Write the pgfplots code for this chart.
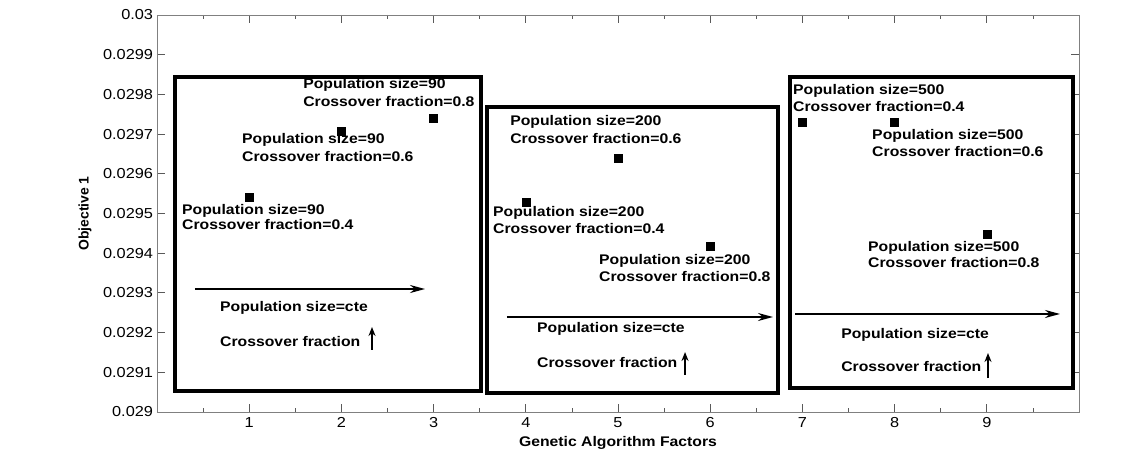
\documentclass[border=0pt]{standalone}
\usepackage{fontspec}
\setmainfont{Liberation Sans}
\usepackage{pgfplots}
\pgfplotsset{compat=1.18}
\usetikzlibrary{arrows.meta}
\definecolor{axgray}{RGB}{128,128,128}

\begin{document}
\begin{tikzpicture}[
    lbl/.style={anchor=west, inner sep=0pt, font=\fontsize{14}{16}\selectfont\bfseries, xscale=1.13},
    ]
\path (-157bp,-41bp) rectangle (986bp,412bp);
\begin{axis}[%
    at={(0,0)}, anchor=south west,
    width=922bp, height=397bp,
    scale only axis,
    clip=false,
    xmin=0, xmax=10,
    ymin=0.029, ymax=0.03,
    xtick={1,2,3,4,5,6,7,8,9},
    minor xtick={0.5,1.5,2.5,3.5,4.5,5.5,6.5,7.5,8.5,9.5},
    ytick={0.029,0.0291,0.0292,0.0293,0.0294,0.0295,0.0296,0.0297,0.0298,0.0299,0.03},
    scaled y ticks=false,
    /pgf/number format/assume math mode=true,
    yticklabel style={/pgf/number format/fixed, /pgf/number format/precision=4},
    xticklabel style={yshift=-2bp},
    tick label style={font=\fontsize{14.5}{16}\selectfont, xscale=1.13},
    axis line style={draw=axgray, line width=0.8bp},
    tick style={draw=axgray!70!black, line width=0.8bp},
    major tick length=8bp,
    minor tick length=4bp,
    xlabel={Genetic Algorithm Factors},
    ylabel={Objective 1},
    xlabel style={font=\fontsize{14}{16}\selectfont\bfseries, xscale=1.13,
        at={(axis description cs:0.5,-0.0780)}, anchor=center},
    ylabel style={font=\fontsize{14}{16}\selectfont\bfseries,
        at={(axis description cs:-0.0781,0.5)}, anchor=center},
    ]

% group boxes
\draw[line width=4bp] (axis cs:0.195,0.0290529) rectangle (axis cs:3.514,0.0298438);
\draw[line width=4bp] (axis cs:3.579,0.0290479) rectangle (axis cs:6.735,0.0297683);
\draw[line width=4bp] (axis cs:6.866,0.0290605) rectangle (axis cs:9.935,0.0298438);

% horizontal arrows
\draw[line width=2bp, -{Stealth[length=15bp,width=8bp]}] (axis cs:0.412,0.0293098) -- (axis cs:2.907,0.0293098);
\draw[line width=2bp, -{Stealth[length=15bp,width=8bp]}] (axis cs:3.796,0.0292393) -- (axis cs:6.681,0.0292393);
\draw[line width=2bp, -{Stealth[length=15bp,width=8bp]}] (axis cs:6.920,0.0292469) -- (axis cs:9.794,0.0292469);

% small vertical arrows
\draw[line width=1.5bp, -{Stealth[length=9bp,width=7bp]}] (axis cs:2.332,0.0291562) -- (axis cs:2.332,0.0292141);
\draw[line width=1.5bp, -{Stealth[length=9bp,width=7bp]}] (axis cs:5.727,0.0290932) -- (axis cs:5.727,0.0291511);
\draw[line width=1.5bp, -{Stealth[length=9bp,width=7bp]}] (axis cs:9.013,0.0290856) -- (axis cs:9.013,0.0291486);

% results
\addplot[only marks, mark=square*, mark size=4bp, black]
    coordinates{
        (1,0.0295416) (2,0.0297078) (3,0.0297406)
        (4,0.0295290) (5,0.0296398) (6,0.0294181)
        (7,0.0297305) (8,0.0297305) (9,0.0294484)
    };

% labels, population size 90
\node[lbl] at (axis cs:1.584,0.0298237) {Population size=90};
\node[lbl] at (axis cs:1.584,0.0297809) {Crossover fraction=0.8};
\node[lbl] at (axis cs:0.922,0.0296851) {Population size=90};
\node[lbl] at (axis cs:0.922,0.0296423) {Crossover fraction=0.6};
\node[lbl] at (axis cs:0.271,0.0295063) {Population size=90};
\node[lbl] at (axis cs:0.271,0.0294710) {Crossover fraction=0.4};
\node[lbl] at (axis cs:0.683,0.0292620) {Population size=cte};
\node[lbl] at (axis cs:0.683,0.0291788) {Crossover fraction};

% labels, population size 200
\node[lbl] at (axis cs:3.829,0.0297305) {Population size=200};
\node[lbl] at (axis cs:3.829,0.0296877) {Crossover fraction=0.6};
\node[lbl] at (axis cs:3.644,0.0295013) {Population size=200};
\node[lbl] at (axis cs:3.644,0.0294610) {Crossover fraction=0.4};
\node[lbl] at (axis cs:4.794,0.0293804) {Population size=200};
\node[lbl] at (axis cs:4.794,0.0293401) {Crossover fraction=0.8};
\node[lbl] at (axis cs:4.121,0.0292091) {Population size=cte};
\node[lbl] at (axis cs:4.121,0.0291259) {Crossover fraction};

% labels, population size 500
\node[lbl] at (axis cs:6.898,0.0298086) {Population size=500};
\node[lbl] at (axis cs:6.898,0.0297683) {Crossover fraction=0.4};
\node[lbl] at (axis cs:7.755,0.0296952) {Population size=500};
\node[lbl] at (axis cs:7.755,0.0296549) {Crossover fraction=0.6};
\node[lbl] at (axis cs:7.711,0.0294131) {Population size=500};
\node[lbl] at (axis cs:7.711,0.0293753) {Crossover fraction=0.8};
\node[lbl] at (axis cs:7.419,0.0291940) {Population size=cte};
\node[lbl] at (axis cs:7.419,0.0291134) {Crossover fraction};

\end{axis}
\end{tikzpicture}
\end{document}
